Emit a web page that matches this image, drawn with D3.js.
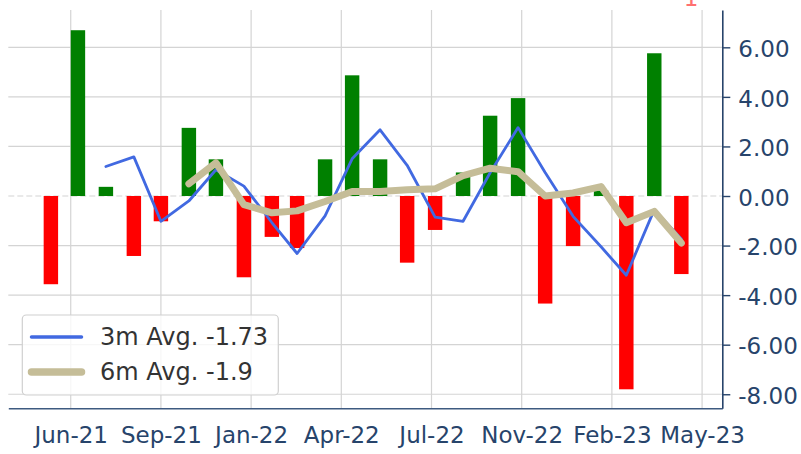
<!DOCTYPE html>
<html>
<head>
<meta charset="utf-8">
<script src="https://cdn.jsdelivr.net/npm/d3@7"></script>
<style>
  body { margin: 0; background: #fff; }
  text { font-family: "DejaVu Sans", sans-serif; }
</style>
</head>
<body>
<script>
// monthly values (bar = month end)
var dates = ["2021-05-31","2021-06-30","2021-07-31","2021-08-31","2021-09-30","2021-10-31",
  "2021-11-30","2021-12-31","2022-01-31","2022-02-28","2022-03-31","2022-04-30",
  "2022-05-31","2022-06-30","2022-07-31","2022-08-31","2022-09-30","2022-10-31",
  "2022-11-30","2022-12-31","2023-01-31","2023-02-28","2023-03-31","2023-04-30"];
var values = [-3.56, 6.69, 0.37, -2.42, -1.02, 2.75, 1.48, -3.28, -1.65, -2.1, 1.48, 4.87,
  1.48, -2.69, -1.37, 0.95, 3.24, 3.95, -4.34, -2.02, 0.22, -7.8, 5.76, -3.15];
// 3 month and 6 month averages (null = no value yet)
var avg3 = [null, null, 1.19, 1.58, -1.02, -0.2, 1.06, 0.4, -1.07, -2.32, -0.8, 1.5,
  2.67, 1.24, -0.85, -1.02, 0.94, 2.76, 0.95, -0.82, -2.05, -3.2, -0.55, -1.73];
var avg6 = [null, null, null, null, null, 0.49, 1.34, -0.35, -0.68, -0.6, -0.22, 0.18,
  0.18, 0.25, 0.29, 0.82, 1.12, 0.98, 0.0, 0.12, 0.38, -1.08, -0.62, -1.9];
var xTicks = ["2021-06-22","2021-09-30","2022-01-08","2022-04-18","2022-07-27",
  "2022-11-04","2023-02-12","2023-05-23"];
var yTicks = [-8, -6, -4, -2, 0, 2, 4, 6];
var legendLabels = ["3m Avg. -1.73", "6m Avg. -1.9"];

var width = 801;
var height = 454;
var plotLeft = 8.3, plotRight = 722.3, plotTop = 10, plotBottom = 408.3;

var parse = d3.utcParse("%Y-%m-%d");
var day = 86400000;

var svg = d3.select('body').append('svg')
  .attr('width', width)
  .attr('height', height)
  .style('display', 'block');

svg.append('rect').attr('width', width).attr('height', height).attr('fill', '#fff');

var x = d3.scaleUtc()
  .domain([new Date(Date.UTC(2021, 3, 13, 19)), new Date(Date.UTC(2023, 5, 14, 10))])
  .range([plotLeft, plotRight]);
var y = d3.scaleLinear()
  .domain([-8.567, 7.506])
  .range([plotBottom, plotTop]);

var barW = x(new Date(16 * day)) - x(new Date(0));

//grid
var grid = svg.append('g');
grid.selectAll('line.gx').data(xTicks).enter().append('line')
  .attr('x1', function(d){return x(parse(d));})
  .attr('x2', function(d){return x(parse(d));})
  .attr('y1', plotTop).attr('y2', plotBottom)
  .attr('stroke', '#d4d4d4').attr('stroke-width', 1.2);
grid.selectAll('line.gy').data(yTicks).enter().append('line')
  .attr('x1', plotLeft).attr('x2', plotRight)
  .attr('y1', function(d){return y(d);})
  .attr('y2', function(d){return y(d);})
  .attr('stroke', '#d4d4d4').attr('stroke-width', 1.2)
  .attr('stroke-dasharray', function(d){return d === 0 ? '6,3' : null;});

//bars
svg.selectAll('rect.bar').data(values).enter().append('rect')
  .attr('x', function(d, i){return x(parse(dates[i])) - barW / 2;})
  .attr('width', barW)
  .attr('y', function(d){return y(Math.max(0, d));})
  .attr('height', function(d){return Math.abs(y(d) - y(0));})
  .attr('fill', function(d){return d >= 0 ? '#008000' : '#ff0000';});

//average lines
var line = d3.line()
  .defined(function(d){return d !== null;})
  .x(function(d, i){return x(parse(dates[i]));})
  .y(function(d){return y(d);});

svg.append('path').datum(avg3)
  .attr('d', line)
  .attr('fill', 'none')
  .attr('stroke', '#4169e1')
  .attr('stroke-width', 2.8)
  .attr('stroke-linejoin', 'round')
  .attr('stroke-linecap', 'round');
svg.append('path').datum(avg6)
  .attr('d', line)
  .attr('fill', 'none')
  .attr('stroke', '#c5bd98')
  .attr('stroke-width', 7)
  .attr('stroke-linejoin', 'round')
  .attr('stroke-linecap', 'round');

//axes
var axisColor = '#27446b';
var xAxis = svg.append('g')
  .attr('transform', 'translate(0,' + plotBottom + ')')
  .call(d3.axisBottom(x)
    .tickValues(xTicks.map(parse))
    .tickFormat(d3.utcFormat('%b-%y'))
    .tickSize(0)
    .tickPadding(18));
xAxis.select('.domain').attr('stroke', '#3e5a80').attr('stroke-width', 1.4);
xAxis.selectAll('text')
  .attr('fill', axisColor)
  .style('font-size', '23px')
  .attr('dy', '0.71em');

var yAxis = svg.append('g')
  .attr('transform', 'translate(' + plotRight + ',0)')
  .call(d3.axisRight(y)
    .tickValues(yTicks)
    .tickFormat(d3.format('.2f'))
    .tickSize(8)
    .tickPadding(8)
    .tickSizeOuter(0));
yAxis.select('.domain').attr('stroke', axisColor).attr('stroke-width', 1.6);
yAxis.selectAll('.tick line').attr('stroke', axisColor).attr('stroke-width', 1.4);
yAxis.selectAll('text')
  .text(function(d){return d3.format('.2f')(d).replace('\u2212', '-');})
  .attr('fill', axisColor)
  .style('font-size', '23px')
  .attr('dy', '0.4em');

//legend
var lg = svg.append('g');
lg.append('rect')
  .attr('x', 22.3).attr('y', 315).attr('width', 256).attr('height', 80)
  .attr('rx', 4)
  .attr('fill', '#fff').attr('fill-opacity', 0.8)
  .attr('stroke', '#d0d0d0').attr('stroke-width', 1.2);
var legendStyle = [{c: '#4169e1', w: 3.5}, {c: '#c5bd98', w: 7.5}];
legendLabels.forEach(function(t, i){
  var ly = 337 + i * 35;
  lg.append('line')
    .attr('x1', 31.5).attr('x2', 81.5).attr('y1', ly).attr('y2', ly)
    .attr('stroke', legendStyle[i].c)
    .attr('stroke-width', legendStyle[i].w)
    .attr('stroke-linecap', 'round');
  lg.append('text')
    .attr('x', 100).attr('y', ly + 8)
    .attr('fill', '#333')
    .style('font-size', '24px')
    .text(t);
});

//cut-off red mark at the top edge
svg.append('text')
  .attr('x', 691).attr('y', 6)
  .attr('text-anchor', 'middle')
  .attr('fill', '#ff7070')
  .style('font-size', '23px')
  .text('1');
</script>
</body>
</html>
